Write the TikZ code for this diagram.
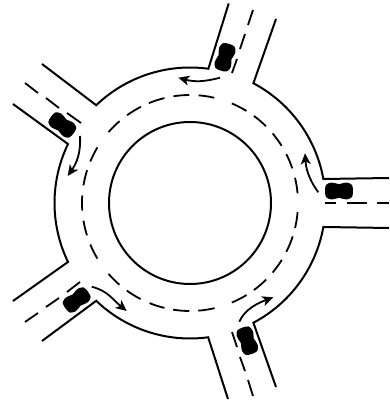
\documentclass[tikz,border=0pt]{standalone}
\usetikzlibrary{arrows.meta}
\tikzset{
  road/.style={line width=2pt,line join=miter,draw=black},
  lane/.style={line width=1.8pt,draw=black},
  flow/.style={line width=1.8pt,draw=black,-{Stealth[length=11pt,width=10pt,inset=3pt]}},
  carbody/.style={fill=black,draw=none}
}
\newcommand{\carat}[3]{%
  \fill[carbody,shift={(#1,#2)},rotate=#3]
    plot[smooth cycle,tension=0.5] coordinates {
      (-14,0)(-13,6)(-8,8.4)(-3,7.6)(0,6.8)(3,7.6)(8,8.4)(13,6)(14,0)
      (13,-6)(8,-8.4)(3,-7.6)(0,-6.8)(-3,-7.6)(-8,-8.4)(-13,-6)};}
\begin{document}
\begin{tikzpicture}[x=1pt,y=1pt]
\useasboundingbox (0,0) rectangle (389,404);
\coordinate (c) at (190,201);
% central island
\draw[road] (c) circle[radius=81];
% outer kerb, section by section, each with its two road edges
\draw[road] (42,340) -- ([shift={(133.8:135.5)}]c) arc[start angle=133.8,end angle=82.2,radius=135.5] -- (228.7,400.5);
\draw[road] (276,385) -- ([shift={(62.1:135.5)}]c) arc[start angle=62.1,end angle=10.2,radius=135.5] -- (389,226);
\draw[road] (389,176) -- ([shift={(-10.2:135.5)}]c) arc[start angle=-10.2,end angle=-62.1,radius=135.5] -- (276,17);
\draw[road] (228,5) -- ([shift={(277.7:135.5)}]c) arc[start angle=277.7,end angle=226.2,radius=135.5] -- (42,63);
\draw[road] (13,103) -- ([shift={(205.8:135.5)}]c) arc[start angle=205.8,end angle=154.2,radius=135.5] -- (13,300);
% ring centre line
\foreach \a/\b in {85.4/77,67.2/58.5,53.7/45.3,40.1/32,26.9/18.7,13.5/5.1,
  355.1/346.6,342/333.1,328.2/319.9,314.9/306.3,301.6/292.8,283.2/274.4,
  269.6/261,256.3/248,242.8/234.2,229.2/221,211/202.6,197.4/189.4,
  184/176,170.6/162.3,157.4/149,139/130.7,125.6/117,112.4/103.7,98.8/90.4}
  \draw[lane] ([shift={(\a:108)}]c) arc[start angle=\a,end angle=\b,radius=108];
% road centre lines
\foreach \xa/\ya/\xb/\yb in {
  232/331/237/345, 240/355/245/370, 248/379/253/394,
  81/281/67/291, 59/296/46/306, 38/311/25/321,
  325/201/336/201, 347/201/367/201, 377/201/389/201,
  80/122/67/112, 59/106/46/97, 38/91/25/82,
  232/72/237/57, 240/47/245/33, 248/24/253/8}
  \draw[lane] (\xa,\ya) -- (\xb,\yb);
% cars
\carat{225}{346.7}{72.7}
\carat{62.3}{279}{-37}
\carat{339}{213}{0}
\carat{76.7}{104}{36.5}
\carat{247.3}{63.3}{-70.6}
% flow arrows
\draw[flow] (220,326.3) .. controls (204,322) and (194,322) .. (178.3,326.3);
\draw[flow] (80,268) .. controls (81,250) and (76,240) .. (67.7,228);
\draw[flow] (91.7,117.3) .. controls (108,113) and (112,105) .. (126.7,93);
\draw[flow] (239.3,82.3) .. controls (245,95) and (258,101) .. (273.3,106.7);
\draw[flow] (318.3,211.7) .. controls (308,226) and (306,236) .. (305,250.7);
\end{tikzpicture}
\end{document}
